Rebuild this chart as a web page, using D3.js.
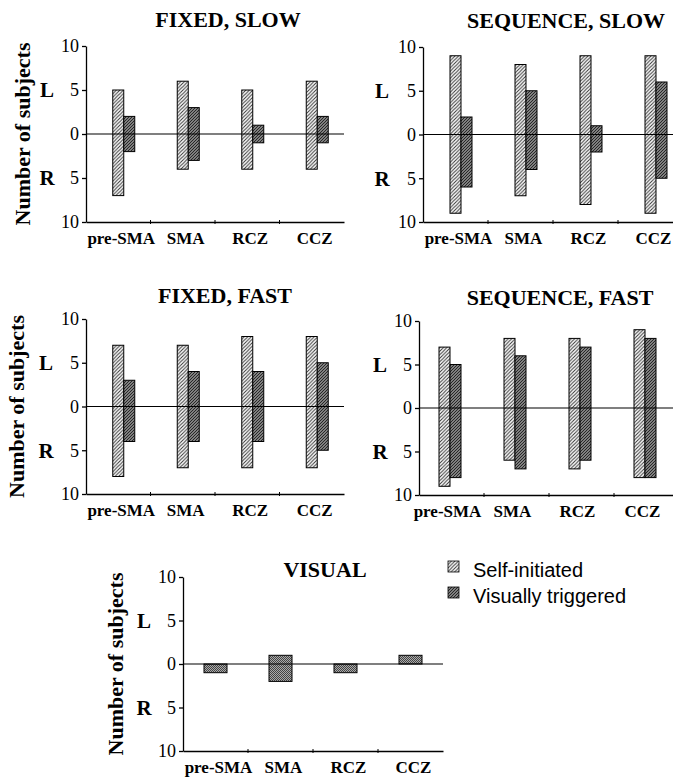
<!DOCTYPE html>
<html>
<head>
<meta charset="utf-8">
<script src="https://cdn.jsdelivr.net/npm/d3@7"></script>
<style>
body { margin: 0; background: #fff; }
text { font-family: "Liberation Serif", "Times New Roman", serif; fill: #000; }
</style>
</head>
<body>
<div id="chart"></div>
<script>
const regions = ["pre-SMA", "SMA", "RCZ", "CCZ"];
const yTicks = [-10, -5, 0, 5, 10];

// L = left hemisphere (drawn up), R = right hemisphere (drawn down)
const fixedSlowSelfL = [5, 6, 5, 6];
const fixedSlowSelfR = [7, 4, 4, 4];
const fixedSlowVisL = [2, 3, 1, 2];
const fixedSlowVisR = [2, 3, 1, 1];

const seqSlowSelfL = [9, 8, 9, 9];
const seqSlowSelfR = [9, 7, 8, 9];
const seqSlowVisL = [2, 5, 1, 6];
const seqSlowVisR = [6, 4, 2, 5];

const fixedFastSelfL = [7, 7, 8, 8];
const fixedFastSelfR = [8, 7, 7, 7];
const fixedFastVisL = [3, 4, 4, 5];
const fixedFastVisR = [4, 4, 4, 5];

const seqFastSelfL = [7, 8, 8, 9];
const seqFastSelfR = [9, 6, 7, 8];
const seqFastVisL = [5, 6, 7, 8];
const seqFastVisR = [8, 7, 6, 8];

const visualL = [0, 1, 0, 1];
const visualR = [1, 2, 1, 0];

const legendLabels = ["Self-initiated", "Visually triggered"];

const W = 673, H = 779;
const svg = d3.select("#chart").append("svg")
    .attr("width", W)
    .attr("height", H);

// fill patterns
const defs = svg.append("defs");

function hatch(id, bg, stroke, sw, size) {
    const p = defs.append("pattern")
        .attr("id", id)
        .attr("patternUnits", "userSpaceOnUse")
        .attr("width", size).attr("height", size);
    p.append("rect").attr("width", size).attr("height", size).attr("fill", bg);
    p.append("path")
        .attr("d", `M${-1},1 l2,-2 M0,${size} l${size},${-size} M${size - 1},${size + 1} l2,-2`)
        .attr("stroke", stroke)
        .attr("stroke-width", sw);
}
hatch("selfFill", "#fff", "#333", 1, 3.5);
hatch("visFill", "#aaa", "#222", 1.2, 3);

const chk = defs.append("pattern")
    .attr("id", "checkFill")
    .attr("patternUnits", "userSpaceOnUse")
    .attr("width", 2).attr("height", 2);
chk.append("rect").attr("width", 2).attr("height", 2).attr("fill", "#aaa");
chk.append("rect").attr("width", 1).attr("height", 1).attr("fill", "#444");
chk.append("rect").attr("x", 1).attr("y", 1).attr("width", 1).attr("height", 1).attr("fill", "#444");

const panels = [
    { title: "FIXED, SLOW", x0: 86, x1: 344, top: 46, bottom: 222, s: 0,
      titleX: 228, titleY: 27, yLabel: 22, lrX: 47,
      series: [[fixedSlowSelfL, fixedSlowSelfR, "url(#selfFill)"], [fixedSlowVisL, fixedSlowVisR, "url(#visFill)"]] },
    { title: "SEQUENCE, SLOW", x0: 423, x1: 683, top: 47, bottom: 222, s: 0,
      titleX: 566, titleY: 28, yLabel: null, lrX: 382,
      series: [[seqSlowSelfL, seqSlowSelfR, "url(#selfFill)"], [seqSlowVisL, seqSlowVisR, "url(#visFill)"]] },
    { title: "FIXED, FAST", x0: 86, x1: 344, top: 319, bottom: 494, s: 0,
      titleX: 225, titleY: 303, yLabel: 16, lrX: 46,
      series: [[fixedFastSelfL, fixedFastSelfR, "url(#selfFill)"], [fixedFastVisL, fixedFastVisR, "url(#visFill)"]] },
    { title: "SEQUENCE, FAST", x0: 419, x1: 679, top: 321, bottom: 495, s: -7,
      titleX: 560, titleY: 305, yLabel: null, lrX: 380,
      series: [[seqFastSelfL, seqFastSelfR, "url(#selfFill)"], [seqFastVisL, seqFastVisR, "url(#visFill)"]] },
    { title: "VISUAL", x0: 183, x1: 443, top: 577, bottom: 751, s: 0,
      titleX: 325, titleY: 577, yLabel: 115, lrX: 144,
      series: [[visualL, visualR, "url(#checkFill)"]] }
];

panels.forEach(function(p) {
    const g = svg.append("g");

    const y = d3.scaleLinear().domain([-10, 10]).range([p.bottom, p.top]);
    const x = d3.scaleBand().domain(regions).range([p.x0, p.x1]);
    const bw = p.series.length > 1 ? 11 : 23;

    // bars
    p.series.forEach(function(ser, si) {
        const off = p.series.length > 1 ? (si === 0 ? -bw / 2 : bw / 2) : -bw / 2;
        g.selectAll(null)
            .data(regions.map((r, i) => ({ r: r, l: ser[0][i], rt: ser[1][i] })))
            .enter()
            .append("rect")
            .filter(d => d.l + d.rt > 0)
            .attr("x", d => x(d.r) + x.bandwidth() / 2 + p.s + off)
            .attr("y", d => y(d.l))
            .attr("width", bw)
            .attr("height", d => y(-d.rt) - y(d.l))
            .attr("fill", ser[2])
            .attr("stroke", "#000")
            .attr("stroke-width", 1);
    });

    // zero line
    g.append("line")
        .attr("x1", p.x0).attr("x2", p.x1)
        .attr("y1", y(0)).attr("y2", y(0))
        .attr("stroke", "#000").attr("stroke-width", 1.2);

    // y axis
    const yAxis = g.append("g")
        .attr("transform", `translate(${p.x0},0)`)
        .attr("font-family", null)
        .call(d3.axisLeft(y).tickValues(yTicks).tickFormat(d => Math.abs(d))
            .tickSize(4).tickSizeOuter(0).tickPadding(3));
    yAxis.selectAll("text")
        .style("font-family", "'Liberation Serif', serif")
        .style("font-size", "18px");
    yAxis.selectAll("line, path").attr("stroke", "#000").attr("stroke-width", 1.3);

    // x axis
    const xAxis = g.append("g")
        .attr("transform", `translate(0,${p.bottom})`)
        .call(d3.axisBottom(x).tickSize(0).tickPadding(10).tickSizeOuter(0));
    xAxis.select(".domain").attr("stroke", "#000").attr("stroke-width", 1.3);
    xAxis.selectAll("text")
        .attr("dx", p.s + 3)
        .style("font-family", "'Liberation Serif', serif")
        .style("font-weight", "bold")
        .style("font-size", "17px");
    g.selectAll(null)
        .data(regions.slice(1))
        .enter().append("line")
        .attr("x1", d => x(d)).attr("x2", d => x(d))
        .attr("y1", p.bottom - 2).attr("y2", p.bottom + 2)
        .attr("stroke", "#000");

    // title
    g.append("text")
        .attr("x", p.titleX).attr("y", p.titleY)
        .attr("text-anchor", "middle")
        .style("font-weight", "bold")
        .style("font-size", "22px")
        .text(p.title);

    // L / R markers
    g.append("text").attr("x", p.lrX).attr("y", y(5)).attr("dy", "0.35em")
        .attr("text-anchor", "middle")
        .style("font-weight", "bold").style("font-size", "21px").text("L");
    g.append("text").attr("x", p.lrX).attr("y", y(-5)).attr("dy", "0.35em")
        .attr("text-anchor", "middle")
        .style("font-weight", "bold").style("font-size", "21px").text("R");

    if (p.yLabel !== null) {
        g.append("text")
            .attr("transform", `translate(${p.yLabel},${(p.top + p.bottom) / 2}) rotate(-90)`)
            .attr("text-anchor", "middle")
            .attr("dy", "0.35em")
            .style("font-weight", "bold")
            .style("font-size", "22px")
            .text("Number of subjects");
    }
});

// legend
const legend = svg.append("g").attr("transform", "translate(448,561)");
const legendFills = ["url(#selfFill)", "url(#visFill)"];
legendLabels.forEach(function(lab, i) {
    legend.append("rect")
        .attr("x", 0).attr("y", i * 26)
        .attr("width", 11).attr("height", 11)
        .attr("fill", legendFills[i])
        .attr("stroke", "#000").attr("stroke-width", 0.8);
    legend.append("text")
        .attr("x", 25).attr("y", i * 26 + 16)
        .style("font-family", "'Liberation Sans', Arial, sans-serif")
        .style("font-size", "20px")
        .text(lab);
});
</script>
</body>
</html>
